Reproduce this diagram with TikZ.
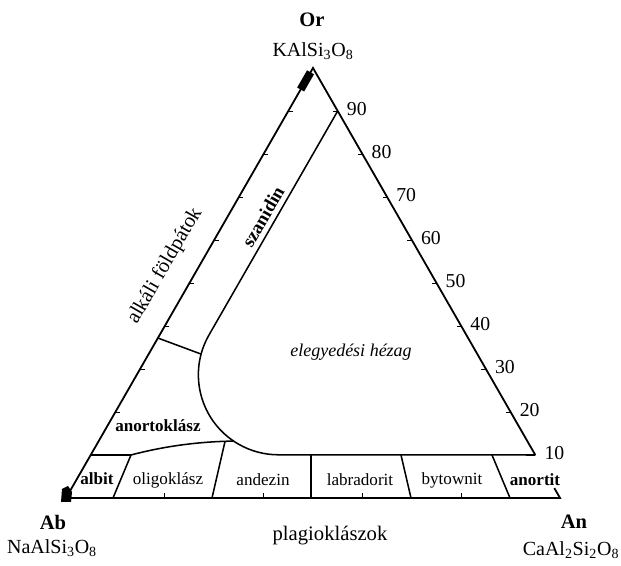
\documentclass[tikz,border=0pt]{standalone}
\usepackage{fontspec}
\setmainfont{Liberation Serif}
\usetikzlibrary{calc}
\begin{document}
\begin{tikzpicture}[x=0.75pt,y=0.75pt,
  edge/.style={line width=1.35pt},
  bnd/.style={line width=1.15pt},
  tick/.style={line width=0.7pt},
  lab/.style={font=\fontsize{12.8}{15}\selectfont, inner sep=0pt},
  blab/.style={font=\bfseries\fontsize{12.8}{15}\selectfont, inner sep=0pt},
  num/.style={font=\fontsize{14.8}{17}\selectfont, anchor=west, inner sep=0pt},
  corner/.style={font=\bfseries\fontsize{15.4}{18}\selectfont, inner sep=0pt},
  formula/.style={font=\fontsize{15}{18}\selectfont, inner sep=0pt}]
\useasboundingbox (0,0) rectangle (621,566);
\coordinate (Ab) at (66,68);
\coordinate (An) at (560,68);
\coordinate (Or) at (313,498);
\coordinate (C) at (278.4,191.2);
% edges
\draw[edge] (Ab) -- (Or) -- (barycentric cs:Or=0.1,An=0.9);
\draw[edge] (barycentric cs:Or=0.023,An=0.977) -- (An) -- (Ab);
% ticks
\foreach \k [evaluate=\k as \j using 10-\k] in {1,...,9}{
  \draw[tick] (barycentric cs:Or=\k,An=\j) -- ++(-4.5,0);
  \draw[tick] (barycentric cs:Or=\k,Ab=\j) -- ++(4.5,0);
  \node[num] (n\k) at ($(barycentric cs:Or=\k,An=\j)+(9,2)$) {\k0};
}
\foreach \k [evaluate=\k as \j using 10-\k] in {2,4,6,8}{
  \draw[tick] (barycentric cs:Ab=\j,An=\k) -- ++(0,4.5);
}
% data clusters
\draw[line width=6pt] (barycentric cs:Or=0.99,Ab=0.01) -- (barycentric cs:Or=0.95,Ab=0.05);
\fill (61,64) -- (71,64) -- (72,74) -- (68,80) -- (62,77) -- cycle;
% miscibility gap boundary
\draw[bnd] (barycentric cs:Or=0.9,An=0.1) -- (209.1,231.2)
  arc[start angle=150,end angle=270,radius=80] -- (barycentric cs:Or=0.1,An=0.9);
% sanidine / anorthoclase
\coordinate (tieL) at (barycentric cs:Or=0.372,Ab=0.628);
\coordinate (tieR) at ($(C)+(165:80)$);
\draw[bnd] (tieL) -- (tieR);
% anorthoclase / plagioclase
\coordinate (a1) at (131,111);
\coordinate (a2) at ($(C)+(236:80)$);
\draw[bnd] (barycentric cs:Or=0.1,Ab=0.9) -- (a1) .. controls (165,120) and (200,124.5) .. (a2);
% plagioclase divisions
\draw[bnd] (a1) -- (113,68);
\draw[bnd] (225,124.5) -- (212,68);
\draw[bnd] (311,111) -- (311,68);
\draw[bnd] (401,111) -- (411,68);
\draw[bnd] (492,111) -- (510,68);
% labels
\node[corner] (lOr) at (312,546) {Or};
\node[formula] (fOr) at (313,515) {KAlSi\textsubscript{3}O\textsubscript{8}};
\node[corner] (lAb) at (53,44) {Ab};
\node[formula] (fAb) at (52,18) {NaAlSi\textsubscript{3}O\textsubscript{8}};
\node[corner] (lAn) at (574,44) {An};
\node[formula] (fAn) at (571,16) {CaAl\textsubscript{2}Si\textsubscript{2}O\textsubscript{8}};
\node[font=\fontsize{15.5}{18}\selectfont, inner sep=0pt] (plag) at (330,30) {plagioklászok};
\node[font=\fontsize{15.5}{18}\selectfont, inner sep=0pt, rotate=60] (alk) at (165,300) {alkáli földpátok};
\node[font=\bfseries\fontsize{14}{17}\selectfont, inner sep=0pt, rotate=60] (sza) at (263,349) {szanidin};
\node[font=\itshape\fontsize{13.5}{16}\selectfont, inner sep=0pt] (eleg) at (351,214) {elegyedési hézag};
\node[blab] (anok) at (158,140) {anortoklász};
\node[blab] (albit) at (97,87) {albit};
\node[lab] (olig) at (168,86) {oligoklász};
\node[lab] (andez) at (263,86) {andezin};
\node[lab] (labr) at (360,86) {labradorit};
\node[lab] (byt) at (452,86) {bytownit};
\node[blab] (anort) at (535,86) {anortit};
\end{tikzpicture}
\end{document}
